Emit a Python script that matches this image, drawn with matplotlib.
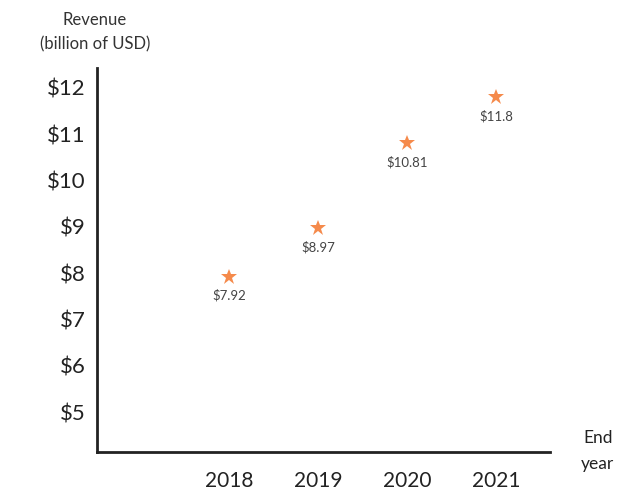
import matplotlib.pyplot as plt

years = ["2018", "2019", "2020", "2021"]
revenue = [7.92, 8.97, 10.81, 11.8]
value_labels = ["$7.92", "$8.97", "$10.81", "$11.8"]
y_ticks = [5, 6, 7, 8, 9, 10, 11, 12]

plt.rcParams["font.family"] = ["Lato", "DejaVu Sans"]

fig = plt.figure(figsize=(6.24, 4.92), dpi=100)
ax = fig.add_axes([0.1554, 0.0813, 0.726, 0.7805])

x = list(range(len(years)))
ax.plot(x, revenue, linestyle="none", marker="*", markersize=12,
        color="#f58a4b", markeredgewidth=0)

for xi, yi, lab in zip(x, revenue, value_labels):
    ax.annotate(lab, (xi, yi), xytext=(0, -9), textcoords="offset points",
                ha="center", va="top", fontsize=9.5, color="#444444")

ax.set_xlim(-1.48, 3.6)
ax.set_ylim(4.14, 12.43)
ax.set_xticks(x)
ax.set_xticklabels(years, fontsize=15, color="#222222")
ax.set_yticks(y_ticks)
ax.set_yticklabels([f"${v}" for v in y_ticks], fontsize=16, color="#222222")
ax.tick_params(axis="both", length=0)
ax.tick_params(axis="x", pad=14)
ax.tick_params(axis="y", pad=8)

for side in ["top", "right"]:
    ax.spines[side].set_visible(False)
for side in ["left", "bottom"]:
    ax.spines[side].set_linewidth(2)
    ax.spines[side].set_color("#222222")

fig.text(0.152, 0.935, "Revenue\n(billion of USD)", ha="center", va="center",
         fontsize=12, color="#333333", linespacing=1.6)
fig.text(0.958, 0.083, "End\nyear", ha="center", va="center",
         fontsize=12.5, color="#222222", linespacing=1.75)

fig.savefig("out.png", dpi=100)
